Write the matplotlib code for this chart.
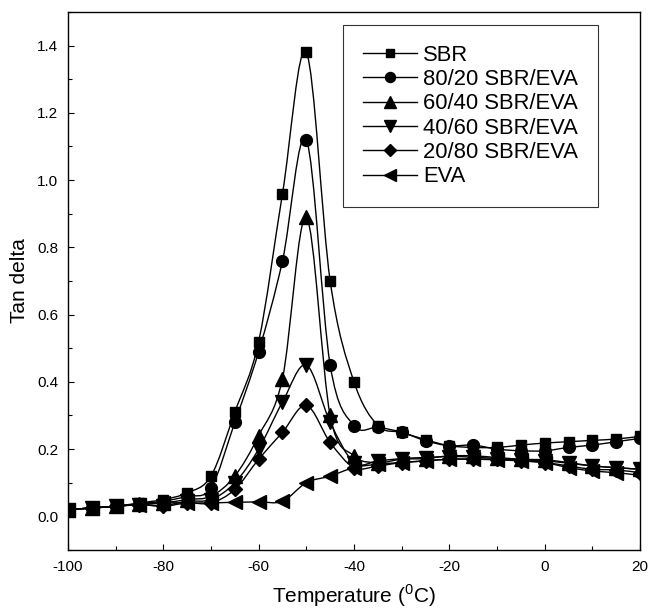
import numpy as np
import matplotlib
matplotlib.use('Agg')
import matplotlib.pyplot as plt
from matplotlib.path import Path
from matplotlib.patches import PathPatch
from matplotlib.lines import Line2D
from matplotlib.ticker import MultipleLocator, FormatStrFormatter

plt.rcParams['font.family'] = ['Liberation Sans', 'DejaVu Sans']
plt.rcParams['mathtext.fontset'] = 'custom'
plt.rcParams['mathtext.rm'] = 'Liberation Sans'
plt.rcParams['axes.unicode_minus'] = False

# temperature (C)
temp = [-100, -95, -90, -85, -80, -75, -70, -65, -60, -55, -50, -45, -40,
        -35, -30, -25, -20, -15, -10, -5, 0, 5, 10, 15, 20]

# tan delta for each blend
sbr = [0.02, 0.025, 0.03, 0.04, 0.05, 0.07, 0.12, 0.31, 0.52, 0.96, 1.38, 0.70, 0.40,
       0.27, 0.25, 0.228, 0.21, 0.205, 0.205, 0.212, 0.218, 0.222, 0.226, 0.23, 0.238]
sbr_80 = [0.02, 0.025, 0.03, 0.038, 0.045, 0.06, 0.085, 0.28, 0.49, 0.76, 1.12, 0.45, 0.27,
          0.265, 0.25, 0.225, 0.21, 0.212, 0.2, 0.195, 0.195, 0.205, 0.212, 0.222, 0.232]
sbr_60 = [0.02, 0.025, 0.03, 0.036, 0.04, 0.05, 0.06, 0.12, 0.24, 0.41, 0.89, 0.30, 0.18,
          0.16, 0.17, 0.172, 0.18, 0.18, 0.175, 0.17, 0.168, 0.16, 0.15, 0.145, 0.14]
sbr_40 = [0.02, 0.025, 0.03, 0.035, 0.032, 0.045, 0.05, 0.10, 0.20, 0.34, 0.45, 0.28, 0.16,
          0.165, 0.172, 0.175, 0.178, 0.176, 0.172, 0.168, 0.165, 0.158, 0.15, 0.145, 0.14]
sbr_20 = [0.02, 0.025, 0.03, 0.035, 0.03, 0.04, 0.04, 0.08, 0.17, 0.25, 0.33, 0.22, 0.145,
          0.15, 0.16, 0.165, 0.17, 0.17, 0.17, 0.165, 0.16, 0.15, 0.14, 0.138, 0.13]
eva = [0.02, 0.025, 0.03, 0.035, 0.04, 0.04, 0.04, 0.042, 0.043, 0.045, 0.10, 0.12, 0.145,
       0.155, 0.16, 0.165, 0.17, 0.17, 0.168, 0.165, 0.16, 0.145, 0.135, 0.13, 0.122]

labels = ['SBR', '80/20 SBR/EVA', '60/40 SBR/EVA', '40/60 SBR/EVA', '20/80 SBR/EVA', 'EVA']
series = [sbr, sbr_80, sbr_60, sbr_40, sbr_20, eva]
markers = ['s', 'o', '^', 'v', 'D', '<']
sizes = [7.5, 8.5, 9.5, 9.5, 7.5, 9.5]


def spline_path(x, y):
    # catmull-rom curve through the points, drawn as cubic bezier segments
    p = np.column_stack([x, y]).astype(float)
    verts = [p[0]]
    codes = [Path.MOVETO]
    n = len(p)
    for i in range(n - 1):
        p0 = p[max(i - 1, 0)]
        p1 = p[i]
        p2 = p[i + 1]
        p3 = p[min(i + 2, n - 1)]
        verts += [p1 + (p2 - p0) / 6.0, p2 - (p3 - p1) / 6.0, p2]
        codes += [Path.CURVE4] * 3
    return Path(verts, codes)


fig = plt.figure(figsize=(6.48, 6.08), dpi=100)
ax = fig.add_axes([0.1049, 0.0954, 0.8828, 0.8849])

handles = []
for y, m, ms, lab in zip(series, markers, sizes, labels):
    ax.add_patch(PathPatch(spline_path(temp, y), fill=False, edgecolor='black', lw=1.0))
    ax.plot(temp, y, linestyle='none', marker=m, ms=ms, color='black')
    handles.append(Line2D([], [], color='black', lw=1.0, marker=m, ms=ms * 0.85, label=lab))

ax.set_xlim(-100, 20)
ax.set_ylim(-0.1, 1.5)
ax.xaxis.set_major_locator(MultipleLocator(20))
ax.xaxis.set_minor_locator(MultipleLocator(10))
ax.yaxis.set_major_locator(MultipleLocator(0.2))
ax.yaxis.set_minor_locator(MultipleLocator(0.1))
ax.yaxis.set_major_formatter(FormatStrFormatter('%.1f'))
ax.tick_params(which='both', direction='in', labelsize=11, pad=7)
ax.tick_params(which='major', length=4, width=0.8)
ax.tick_params(which='minor', length=3, width=0.8)
for s in ax.spines.values():
    s.set_linewidth(1.0)

ax.set_xlabel('Temperature ($^0$C)', fontsize=15, labelpad=6)
ax.set_ylabel('Tan delta', fontsize=15, labelpad=6)

leg = ax.legend(handles=handles, loc='upper right', bbox_to_anchor=(0.9266, 0.9758),
                fontsize=15.8, handlelength=2.45, handletextpad=0.3, labelspacing=0.15,
                borderpad=0.9, frameon=True, fancybox=False, borderaxespad=0)
leg.get_frame().set_edgecolor('black')
leg.get_frame().set_linewidth(0.8)

fig.savefig('out.png', dpi=100)
